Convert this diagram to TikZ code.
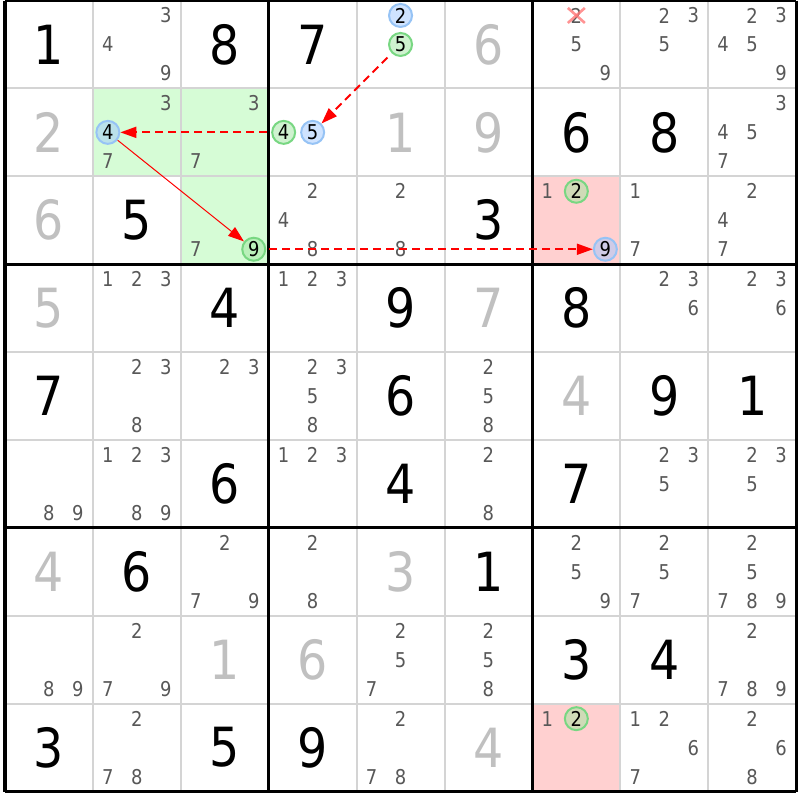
\documentclass[tikz,border=0pt]{standalone}
\usepackage{fontspec}
\setmainfont{DejaVu Sans}[FakeStretch=0.88]
\usetikzlibrary{arrows.meta}
\definecolor{solvc}{RGB}{192,192,192}
\definecolor{candc}{RGB}{88,88,88}
\definecolor{thinc}{RGB}{212,212,212}
\definecolor{greenbg}{RGB}{214,252,214}
\definecolor{pinkbg}{RGB}{255,208,208}
\definecolor{bluefill}{RGB}{160,200,255}
\definecolor{blueline}{RGB}{150,195,245}
\definecolor{greenfill}{RGB}{160,230,160}
\definecolor{greenline}{RGB}{120,215,130}
\definecolor{crossc}{RGB}{255,120,120}
\definecolor{arrc}{RGB}{255,0,0}
\tikzset{
  bigdig/.style={inner sep=0pt, font=\fontsize{27}{27}\selectfont},
  givendig/.style={bigdig, text=black},
  solveddig/.style={bigdig, text=solvc},
  canddig/.style={inner sep=0pt, font=\fontsize{10.2}{11}\selectfont, text=candc},
  markdig/.style={canddig, text=black},
  ringblue/.style={circle, minimum size=11.5pt, inner sep=0pt, draw=blueline, line width=1pt, fill=bluefill, fill opacity=0.5},
  ringgreen/.style={circle, minimum size=11.5pt, inner sep=0pt, draw=greenline, line width=1pt, fill=greenfill, fill opacity=0.5},
  thinline/.style={thinc, line width=1pt},
  thickline/.style={black, line width=1.5pt},
  arrbase/.style={arrc, -{Triangle[length=8pt,width=5.5pt]}},
  arrdash/.style={arrbase, line width=0.9pt, dash pattern=on 4pt off 2.5pt},
  arrsolid/.style={arrbase, line width=0.5pt},
  crossline/.style={crossc, line width=1.3pt, opacity=0.8},
}
\newcommand\Giv[3]{\node[givendig] (g#1#2) at ({5+87.9*(#2-0.5)},{0.5+87.9*(#1-0.5)}) {#3};}
\newcommand\Sol[3]{\node[solveddig] (s#1#2) at ({5+87.9*(#2-0.5)},{0.5+87.9*(#1-0.5)}) {#3};}
\newcommand\Cand[3]{\foreach \dd in {#3}{\node[canddig] (n#1#2\dd) at ({5+87.9*(#2-0.5)+29*(mod(\dd-1,3)-1)},{0.5+87.9*(#1-0.5)+29*(int((\dd-1)/3)-1)}) {\dd};}}
\newcommand\Ring[4]{\node[#4] (k#1#2#3) at ({5+87.9*(#2-0.5)+29*(mod(#3-1,3)-1)},{0.5+87.9*(#1-0.5)+29*(int((#3-1)/3)-1)}) {};
  \node[markdig] (n#1#2#3) at (k#1#2#3) {#3};}
\newcommand\Bg[3]{\fill[#3] ({5+87.9*(#2-1)},{0.5+87.9*(#1-1)}) rectangle ({5+87.9*#2},{0.5+87.9*#1});}
\begin{document}
\begin{tikzpicture}[x=0.5pt,y=-0.5pt]
\useasboundingbox (0,0) rectangle (800,800);
\fill[white] (0,0) rectangle (800,800);
% highlighted cells
\Bg{2}{2}{greenbg}\Bg{2}{3}{greenbg}\Bg{3}{3}{greenbg}
\Bg{3}{7}{pinkbg}\Bg{9}{7}{pinkbg}
% grid
\foreach \i in {1,2,4,5,7,8}{
  \draw[thinline] ({5+87.9*\i},0.5) -- ({5+87.9*\i},791.6);
  \draw[thinline] (5,{0.5+87.9*\i}) -- (796.1,{0.5+87.9*\i});
}
\foreach \i in {0,3,6,9}{
  \draw[thickline] ({5+87.9*\i},0.5) -- ({5+87.9*\i},791.6);
  \draw[thickline] (5,{0.5+87.9*\i}) -- (796.1,{0.5+87.9*\i});
}
% row 1
\Giv{1}{1}{1}\Cand{1}{2}{3,4,9}\Giv{1}{3}{8}\Giv{1}{4}{7}
\Ring{1}{5}{2}{ringblue}\Ring{1}{5}{5}{ringgreen}
\Sol{1}{6}{6}\Cand{1}{7}{2,5,9}\Cand{1}{8}{2,3,5}\Cand{1}{9}{2,3,4,5,9}
% row 2
\Sol{2}{1}{2}\Cand{2}{2}{3,7}\Ring{2}{2}{4}{ringblue}\Cand{2}{3}{3,7}
\Ring{2}{4}{4}{ringgreen}\Ring{2}{4}{5}{ringblue}
\Sol{2}{5}{1}\Sol{2}{6}{9}\Giv{2}{7}{6}\Giv{2}{8}{8}\Cand{2}{9}{3,4,5,7}
% row 3
\Sol{3}{1}{6}\Giv{3}{2}{5}\Cand{3}{3}{7}\Ring{3}{3}{9}{ringgreen}
\Cand{3}{4}{2,4,8}\Cand{3}{5}{2,8}\Giv{3}{6}{3}
\Cand{3}{7}{1}\Ring{3}{7}{2}{ringgreen}\Ring{3}{7}{9}{ringblue}
\Cand{3}{8}{1,7}\Cand{3}{9}{2,4,7}
% row 4
\Sol{4}{1}{5}\Cand{4}{2}{1,2,3}\Giv{4}{3}{4}\Cand{4}{4}{1,2,3}\Giv{4}{5}{9}
\Sol{4}{6}{7}\Giv{4}{7}{8}\Cand{4}{8}{2,3,6}\Cand{4}{9}{2,3,6}
% row 5
\Giv{5}{1}{7}\Cand{5}{2}{2,3,8}\Cand{5}{3}{2,3}\Cand{5}{4}{2,3,5,8}\Giv{5}{5}{6}
\Cand{5}{6}{2,5,8}\Sol{5}{7}{4}\Giv{5}{8}{9}\Giv{5}{9}{1}
% row 6
\Cand{6}{1}{8,9}\Cand{6}{2}{1,2,3,8,9}\Giv{6}{3}{6}\Cand{6}{4}{1,2,3}\Giv{6}{5}{4}
\Cand{6}{6}{2,8}\Giv{6}{7}{7}\Cand{6}{8}{2,3,5}\Cand{6}{9}{2,3,5}
% row 7
\Sol{7}{1}{4}\Giv{7}{2}{6}\Cand{7}{3}{2,7,9}\Cand{7}{4}{2,8}\Sol{7}{5}{3}
\Giv{7}{6}{1}\Cand{7}{7}{2,5,9}\Cand{7}{8}{2,5,7}\Cand{7}{9}{2,5,7,8,9}
% row 8
\Cand{8}{1}{8,9}\Cand{8}{2}{2,7,9}\Sol{8}{3}{1}\Sol{8}{4}{6}\Cand{8}{5}{2,5,7}
\Cand{8}{6}{2,5,8}\Giv{8}{7}{3}\Giv{8}{8}{4}\Cand{8}{9}{2,7,8,9}
% row 9
\Giv{9}{1}{3}\Cand{9}{2}{2,7,8}\Giv{9}{3}{5}\Giv{9}{4}{9}\Cand{9}{5}{2,7,8}
\Sol{9}{6}{4}\Cand{9}{7}{1}\Ring{9}{7}{2}{ringgreen}
\Cand{9}{8}{1,2,6,7}\Cand{9}{9}{2,6,8}
% eliminated candidate
\draw[crossline] ([shift={(-8.5,-7.5)}]n172.center) -- ([shift={(8.5,7.5)}]n172.center);
\draw[crossline] ([shift={(-8.5,7.5)}]n172.center) -- ([shift={(8.5,-7.5)}]n172.center);
% chain
\draw[arrdash, shorten <=3pt] (k155) -- (k245);
\draw[arrdash, shorten <=2pt] (k244) -- (k224);
\draw[arrsolid] (k224) -- (k339);
\draw[arrdash, shorten <=1.5pt] (k339) -- (k379);
\end{tikzpicture}
\end{document}
